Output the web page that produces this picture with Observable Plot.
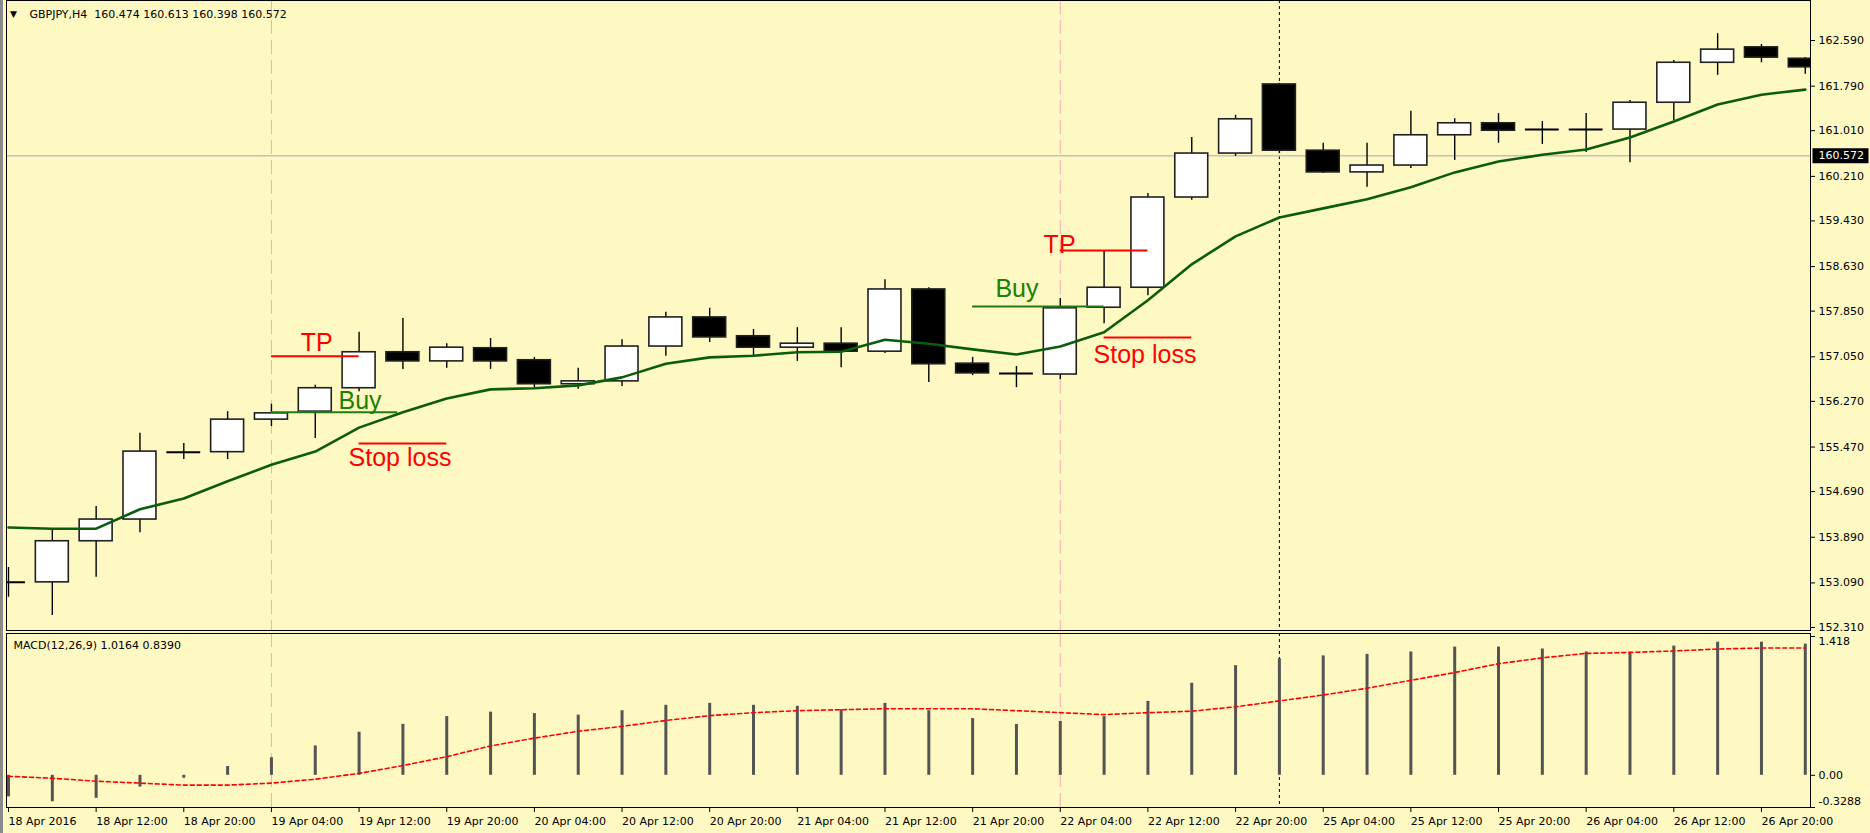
<!DOCTYPE html>
<html>
<head>
<meta charset="utf-8">
<script src="https://cdn.jsdelivr.net/npm/d3@7"></script>
<script src="https://cdn.jsdelivr.net/npm/@observablehq/plot@0.6"></script>
<style>
  html, body { margin: 0; padding: 0; background: #fef8c2; }
  #wrap { position: relative; width: 1870px; height: 833px; overflow: hidden; background: #fef8c2; }
  #wrap svg { display: block; }
  #wrap svg.mainpanel { position: relative; z-index: 2; overflow: visible; }
  #edge { position: absolute; left: 0; top: 0; width: 3px; height: 833px; background: #8a8a8a; z-index: 3; }
</style>
</head>
<body>
<div id="wrap"></div>
<script>
// ---------- data ----------
const symbolName = "GBPJPY,H4";
const headerQuote = ["160.474", "160.613", "160.398", "160.572"];
const macdTitle = "MACD(12,26,9) 1.0164 0.8390";

const opens  = [153.10,153.10,153.82,154.20,155.38,155.38,155.95,156.09,156.50,157.13,
                156.97,157.20,156.99,156.57,156.62,157.23,157.74,157.41,157.21,157.28,
                157.14,158.23,156.93,156.76,156.74,157.91,158.26,159.84,160.61,161.82,
                160.66,160.28,160.40,160.93,161.14,161.03,161.03,161.03,161.50,162.20,
                162.47,162.27];
const highs  = [153.36,154.03,154.43,155.71,155.53,156.09,156.22,156.55,157.48,157.72,
                157.28,157.37,157.04,156.85,157.35,157.83,157.90,157.53,157.56,157.56,
                158.40,158.26,157.04,156.88,158.07,158.91,159.91,160.89,161.28,161.84,
                160.79,160.79,161.35,161.22,161.31,161.17,161.31,161.54,162.24,162.71,
                162.52,162.29];
const lows   = [152.84,152.52,153.19,153.97,155.25,155.25,155.83,155.62,156.44,156.83,
                156.85,156.83,156.51,156.48,156.53,157.06,157.30,157.06,156.97,156.86,
                157.11,156.60,156.72,156.51,156.65,157.63,158.12,159.79,160.56,160.61,
                160.26,160.02,160.35,160.49,160.79,160.77,160.63,160.45,161.19,161.98,
                162.20,162.00];
const closes = [153.10,153.82,154.20,155.39,155.38,155.95,156.06,156.50,157.13,156.97,
                157.21,156.97,156.57,156.62,157.23,157.74,157.39,157.21,157.28,157.14,
                158.23,156.92,156.76,156.76,157.90,158.26,159.84,160.61,161.21,160.66,
                160.28,160.40,160.93,161.14,161.01,161.03,161.03,161.50,162.20,162.43,
                162.29,162.12];
const maValues = [154.06,154.04,154.04,154.38,154.57,154.87,155.16,155.39,155.81,156.08,
                  156.32,156.48,156.50,156.55,156.69,156.93,157.04,157.07,157.13,157.14,
                  157.35,157.28,157.18,157.09,157.23,157.48,158.04,158.67,159.16,159.49,
                  159.65,159.81,160.02,160.28,160.47,160.59,160.68,160.89,161.17,161.47,
                  161.64,161.73];
const macdHist = [-0.22,-0.27,-0.235,-0.12,-0.03,0.09,0.18,0.30,0.44,0.52,
                  0.60,0.645,0.63,0.615,0.66,0.715,0.735,0.715,0.705,0.67,
                  0.735,0.66,0.58,0.52,0.55,0.60,0.755,0.94,1.12,1.19,
                  1.22,1.235,1.26,1.31,1.31,1.29,1.26,1.26,1.32,1.36,
                  1.36,1.34];
const macdSignal = [-0.01,-0.03,-0.06,-0.08,-0.10,-0.10,-0.08,-0.04,0.02,0.10,
                    0.19,0.30,0.38,0.45,0.50,0.56,0.61,0.64,0.66,0.67,
                    0.68,0.68,0.68,0.66,0.64,0.62,0.64,0.655,0.70,0.76,
                    0.82,0.89,0.97,1.05,1.14,1.20,1.245,1.255,1.27,1.29,
                    1.30,1.30];

const priceTicks = [162.590,161.790,161.010,160.210,159.430,158.630,157.850,157.050,
                    156.270,155.470,154.690,153.890,153.090,152.310];
const currentPrice = 160.572;
const timeTickIndex = [0,2,4,6,8,10,12,14,16,18,20,22,24,26,28,30,32,34,36,38,40];
const timeTickLabels = ["18 Apr 2016","18 Apr 12:00","18 Apr 20:00","19 Apr 04:00","19 Apr 12:00",
  "19 Apr 20:00","20 Apr 04:00","20 Apr 12:00","20 Apr 20:00","21 Apr 04:00","21 Apr 12:00",
  "21 Apr 20:00","22 Apr 04:00","22 Apr 12:00","22 Apr 20:00","25 Apr 04:00","25 Apr 12:00",
  "25 Apr 20:00","26 Apr 04:00","26 Apr 12:00","26 Apr 20:00"];
const macdTicks = [1.418, 0, -0.3288];
const macdTickLabels = ["1.418", "0.00", "-0.3288"];

const markerBars = [6, 24];
const sessionBar = 29;

const levelKind  = ["tp", "buy", "sl", "tp", "buy", "sl"];
const levelLabel = ["TP", "Buy", "Stop loss", "TP", "Buy", "Stop loss"];
const levelStart = [6, 6, 8, 24, 22, 25];
const levelEnd   = [8, 8.88, 10, 26, 25, 27];
const levelPrice = [157.06, 156.08, 155.53, 158.91, 157.93, 157.39];
const labelBar   = [6.67, 7.53, 7.76, 23.62, 22.52, 24.76];
const labelPrice = [157.16, 156.13, 155.13, 158.86, 158.09, 156.95];

// ---------- tables ----------
const candles = opens.map((o, i) => ({i, open: o, high: highs[i], low: lows[i], close: closes[i]}));
const maRows = maValues.map((v, i) => ({i, v}));
const macdRows = macdHist.map((h, i) => ({i, h, s: macdSignal[i]}));
const levels = levelKind.map((k, j) => ({
  kind: k, label: levelLabel[j], from: levelStart[j], to: levelEnd[j],
  price: levelPrice[j], lx: labelBar[j], ly: labelPrice[j]
}));

// ---------- styles ----------
const BG = "#fef8c2";
const AXIS_FONT = "DejaVu Sans, Verdana, sans-serif";
const NOTE_FONT = "Liberation Sans, Arial, sans-serif";
const xDomain = [-0.0456, 41.119];
const halfBody = 0.376;
const pink = "#f6a9b6";
const boxSymbol = {draw(ctx) { ctx.rect(-28, -7.5, 56, 15); }};
const levelColor = k => k === "buy" ? "#247a12" : "#ff0000";
const levelTextColor = k => k === "buy" ? "#1d8000" : "#ff0000";

const main = Plot.plot({
  width: 1870, height: 631,
  marginLeft: 6, marginRight: 60, marginTop: 0, marginBottom: 1,
  className: "mainpanel",
  style: {background: BG, fontFamily: AXIS_FONT, fontSize: "11px", color: "#000", overflow: "visible"},
  x: {domain: xDomain, axis: null, label: null},
  y: {domain: [152.2568, 163.2905], axis: null, label: null},
  marks: [
    Plot.ruleX(markerBars, {x: d => d, stroke: pink, strokeWidth: 1, strokeDasharray: "14,6"}),
    Plot.ruleX([sessionBar], {x: d => d, stroke: "#000", strokeWidth: 1, strokeDasharray: "3,3"}),
    Plot.ruleY([currentPrice], {y: d => d, stroke: "#c2c2c2", strokeWidth: 1.6}),
    Plot.ruleX(candles, {x: "i", y1: "low", y2: "high", stroke: "#000", strokeWidth: 1.4, clip: true}),
    Plot.rect(candles.filter(d => d.open !== d.close), {
      x1: d => d.i - halfBody, x2: d => d.i + halfBody, y1: "open", y2: "close",
      fill: d => d.close > d.open ? "#ffffff" : "#000000", stroke: "#202020", strokeWidth: 1.6, clip: true
    }),
    Plot.ruleY(candles.filter(d => d.open === d.close), {
      y: "open", x1: d => d.i - halfBody - 0.01, x2: d => d.i + halfBody + 0.01,
      stroke: "#000", strokeWidth: 2, clip: true
    }),
    Plot.line(maRows, {x: "i", y: "v", stroke: "#0b5c0b", strokeWidth: 2.6, clip: true}),
    Plot.ruleY(levels, {y: "price", x1: "from", x2: "to", stroke: d => levelColor(d.kind), strokeWidth: 2}),
    Plot.text(levels, {
      x: "lx", y: "ly", text: "label", textAnchor: "start", lineAnchor: "bottom",
      fill: d => levelTextColor(d.kind), fontSize: 25, fontFamily: NOTE_FONT
    }),
    Plot.axisY(priceTicks, {anchor: "right", tickSize: 4, tickPadding: 4, label: null,
      tickFormat: d => d.toFixed(3), fontSize: 11, fontFamily: AXIS_FONT}),
    Plot.dot([currentPrice], {y: d => d, frameAnchor: "right", dx: 30, symbol: boxSymbol,
      fill: "#000", stroke: "none"}),
    Plot.text([currentPrice], {y: d => d, frameAnchor: "right", dx: 8, textAnchor: "start",
      text: d => d.toFixed(3), fill: "#fff", fontSize: 11, fontFamily: AXIS_FONT}),
    Plot.frame({stroke: "#000", strokeWidth: 1}),
    Plot.text(["\u25BC"], {frameAnchor: "top-left", dx: 7, dy: 14, textAnchor: "middle",
      lineAnchor: "middle", fontSize: 9, fill: "#000"}),
    Plot.text([symbolName + "\u00A0\u00A0" + headerQuote.join(" ")], {frameAnchor: "top-left",
      dx: 23, dy: 14, textAnchor: "start", lineAnchor: "middle", fontSize: 11, fill: "#000",
      fontFamily: AXIS_FONT})
  ]
});

const macd = Plot.plot({
  width: 1870, height: 202,
  marginLeft: 6, marginRight: 60, marginTop: 2, marginBottom: 26,
  style: {background: "transparent", fontFamily: AXIS_FONT, fontSize: "11px", color: "#000"},
  x: {domain: xDomain, axis: null, label: null},
  y: {domain: [-0.3288, 1.4486], axis: null, label: null},
  marks: [
    Plot.ruleX(markerBars, {x: d => d, stroke: pink, strokeWidth: 1, strokeDasharray: "14,6"}),
    Plot.ruleX([sessionBar], {x: d => d, stroke: "#000", strokeWidth: 1, strokeDasharray: "3,3"}),
    Plot.ruleX(macdRows, {x: "i", y1: 0, y2: "h", stroke: "#545454", strokeWidth: 3, clip: true}),
    Plot.line(macdRows, {x: "i", y: "s", stroke: "#ff0000", strokeWidth: 1.6,
      strokeDasharray: "4,3", clip: true}),
    Plot.axisX(timeTickIndex, {anchor: "bottom", tickSize: 5, tickPadding: 5, label: null,
      tickFormat: d => timeTickLabels[timeTickIndex.indexOf(d)], textAnchor: "start",
      fontSize: 11, fontFamily: AXIS_FONT}),
    Plot.axisY(macdTicks, {anchor: "right", tickSize: 4, label: null, tickFormat: () => ""}),
    Plot.text([macdTicks[0]], {y: d => d, frameAnchor: "right", dx: 8, textAnchor: "start",
      lineAnchor: "top", dy: 1, text: () => macdTickLabels[0], fontSize: 11, fill: "#000"}),
    Plot.text([macdTicks[1]], {y: d => d, frameAnchor: "right", dx: 8, textAnchor: "start",
      lineAnchor: "middle", text: () => macdTickLabels[1], fontSize: 11, fill: "#000"}),
    Plot.text([macdTicks[2]], {y: d => d, frameAnchor: "right", dx: 8, textAnchor: "start",
      lineAnchor: "bottom", dy: -3, text: () => macdTickLabels[2], fontSize: 11, fill: "#000"}),
    Plot.frame({stroke: "#000", strokeWidth: 1}),
    Plot.text([macdTitle], {frameAnchor: "top-left", dx: 7, dy: 12, textAnchor: "start",
      lineAnchor: "middle", fontSize: 11, fill: "#000", fontFamily: AXIS_FONT})
  ]
});

const wrap = document.getElementById("wrap");
main.classList.add("mainpanel");
wrap.appendChild(main);
wrap.appendChild(macd);
const edge = document.createElement("div");
edge.id = "edge";
wrap.appendChild(edge);
</script>
</body>
</html>
